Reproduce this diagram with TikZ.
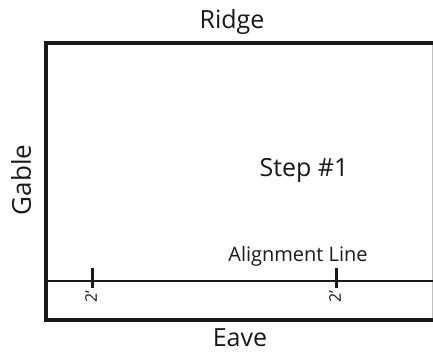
\documentclass[tikz,border=0pt]{standalone}
\usepackage{fontspec}
\setmainfont{Open Sans}
\begin{document}
\begin{tikzpicture}[x=1pt,y=-1pt,
  lbl/.style={inner sep=0pt, font=\fontsize{25}{27}\selectfont, text=black!90},
  small/.style={inner sep=0pt, font=\fontsize{20}{22}\selectfont, text=black!90},
  tiny/.style={inner sep=0pt, font=\fontsize{16}{17}\selectfont, rotate=90, text=black!90},
  frame/.style={line width=4.2pt, black!90},
  tick/.style={line width=3pt, black!90}]
\useasboundingbox (0,0) rectangle (433,352);
\begin{scope}
\clip (0,0) rectangle (433,352);
\draw[frame] (440,43) -- (46,43) -- (46,320) -- (440,320);
\end{scope}
\draw[black!25, line width=0.8pt] (432,45) -- (432,318);
\coordinate (al) at (46,281);
\coordinate (ar) at (433,281);
\draw[line width=2pt, black!90] (al) -- (ar);
\coordinate (t1) at (92,268);
\coordinate (t1b) at (92,288);
\coordinate (t2) at (336,268);
\coordinate (t2b) at (336,288);
\draw[tick] (t1) -- (t1b);
\draw[tick] (t2) -- (t2b);
\node[lbl] (ridge) at (232,22) {Ridge};
\node[lbl] (step) at (304,170) {Step \#1};
\node[lbl, rotate=90, font=\fontsize{26}{28}\selectfont] (gable) at (21,180) {Gable};
\node[lbl] (eave) at (240,338) {Eave};
\node[small] (align) at (298,256) {Alignment Line};
\node[tiny] (m1) at (91,297) {2'};
\node[tiny] (m2) at (335,297) {2'};
\end{tikzpicture}
\end{document}
